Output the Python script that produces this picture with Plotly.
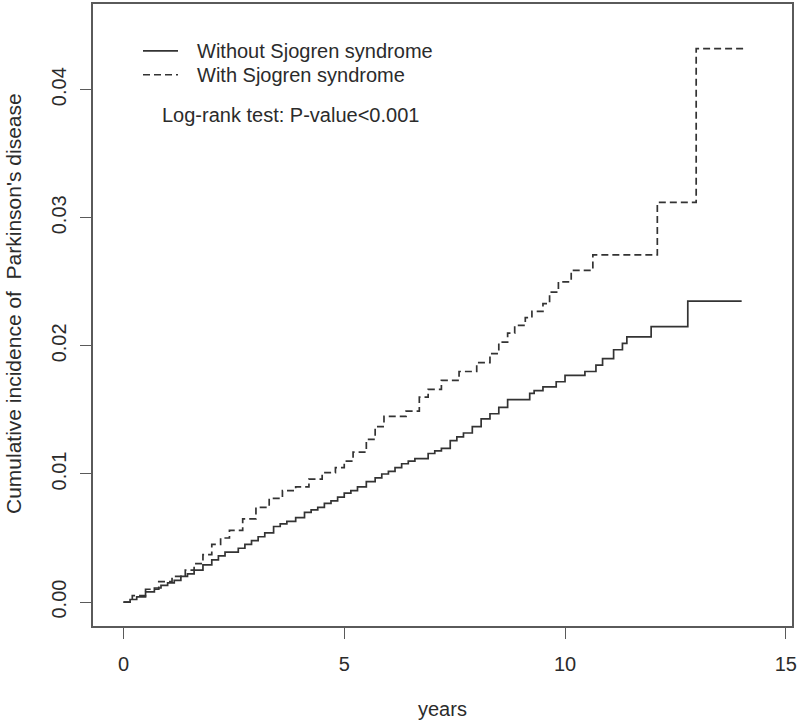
import plotly.graph_objects as go

# Without Sjogren syndrome (solid)
t_without = [0, 0.15, 0.3, 0.5, 0.7, 0.85, 1.0, 1.15, 1.3, 1.45, 1.6, 1.8, 2.0, 2.15, 2.3, 2.6,
             2.75, 2.9, 3.05, 3.2, 3.4, 3.55, 3.7, 3.9, 4.1, 4.25, 4.4, 4.55, 4.7, 4.85,
             5.0, 5.15, 5.3, 5.5, 5.7, 5.85, 6.0, 6.15, 6.3, 6.45, 6.6, 6.9, 7.05, 7.2, 7.4,
             7.55, 7.7, 7.9, 8.1, 8.3, 8.5, 8.7, 9.2, 9.3, 9.5, 9.8, 10.0, 10.45, 10.7, 10.85,
             11.1, 11.3, 11.4, 11.95, 12.78, 14.0]
ci_without = [0, 0.0002, 0.0004, 0.0008, 0.0011, 0.0013, 0.0015, 0.0017, 0.0020, 0.0022,
              0.0025, 0.0029, 0.0033, 0.0036, 0.0039, 0.0042, 0.0045, 0.0048, 0.0051, 0.0054,
              0.0059, 0.0061, 0.0063, 0.0066, 0.0070, 0.0072, 0.0074, 0.0077, 0.0079, 0.0082,
              0.0085, 0.0087, 0.0090, 0.0094, 0.0097, 0.0100, 0.0102, 0.0105, 0.0108, 0.0110,
              0.0112, 0.0116, 0.0118, 0.0120, 0.0126, 0.0129, 0.0132, 0.0137, 0.0143, 0.0147,
              0.0152, 0.0158, 0.0163, 0.0165, 0.0168, 0.0172, 0.0177, 0.0180, 0.0185, 0.0190,
              0.0197, 0.0202, 0.0207, 0.0215, 0.0235, 0.0235]

# With Sjogren syndrome (dashed)
t_with = [0, 0.2, 0.5, 0.8, 1.1, 1.4, 1.6, 1.8, 2.0, 2.2, 2.4, 2.7, 3.0, 3.3, 3.6, 3.9, 4.2, 4.5,
          4.8, 5.0, 5.2, 5.5, 5.7, 5.9, 6.4, 6.7, 6.9, 7.2, 7.6, 8.0, 8.3, 8.5, 8.7, 8.86, 9.1,
          9.25, 9.5, 9.65, 9.85, 10.14, 10.63, 12.09, 12.97, 14.05]
ci_with = [0, 0.0005, 0.0010, 0.0016, 0.0020, 0.0025, 0.0030, 0.0037, 0.0045, 0.0050, 0.0056,
           0.0065, 0.0074, 0.0081, 0.0087, 0.0090, 0.0096, 0.0101, 0.0105, 0.0110, 0.0117,
           0.0127, 0.0137, 0.0145, 0.0149, 0.0160, 0.0166, 0.0173, 0.0180, 0.0187, 0.0194,
           0.0203, 0.0210, 0.0216, 0.0222, 0.0227, 0.0233, 0.0242, 0.0250, 0.0259, 0.0271,
           0.0312, 0.0432, 0.0432]

x_ticks = [0, 5, 10, 15]
y_ticks = [0.00, 0.01, 0.02, 0.03, 0.04]
y_tick_labels = ["0.00", "0.01", "0.02", "0.03", "0.04"]

legend_names = ["Without Sjogren syndrome", "With Sjogren syndrome"]
test_text = "Log-rank test: P-value<0.001"
x_title = "years"
y_title = "Cumulative incidence of  Parkinson's disease"

FONT = "Liberation Sans, Arial, sans-serif"
INK = "#2b2b2b"
LINE = "#333333"
AXIS = "#5a5a5a"
FS = 20

# plot-area pixel box
L, R, T, B = 93, 792, 2, 626
W, H = 800, 724


def px(x):
    return (x - L) / (R - L)


def py(y):
    return (B - y) / (B - T)


fig = go.Figure()
fig.add_trace(go.Scatter(x=t_without, y=ci_without, mode="lines", line_shape="hv",
                         name=legend_names[0], showlegend=False,
                         line=dict(color=LINE, width=1.7)))
fig.add_trace(go.Scatter(x=t_with, y=ci_with, mode="lines", line_shape="hv",
                         name=legend_names[1], showlegend=False,
                         line=dict(color=LINE, width=1.7, dash="7px,4px")))

fig.update_layout(
    width=W, height=H,
    margin=dict(l=L, r=W - R, t=T, b=H - B),
    paper_bgcolor="white", plot_bgcolor="white",
    font=dict(family=FONT, size=FS, color=INK),
    xaxis=dict(range=[-0.69, 15.14], tickvals=x_ticks, ticks="outside", ticklen=11,
               tickcolor=AXIS, tickwidth=1.3, showline=True, linecolor=AXIS, linewidth=1.5,
               mirror=True, showgrid=False, zeroline=False, ticklabelstandoff=8,
               tickfont=dict(size=FS, color=INK)),
    yaxis=dict(range=[-0.001868, 0.04669], tickvals=y_ticks, ticktext=y_tick_labels,
               ticks="outside", ticklen=11, tickcolor=AXIS, tickwidth=1.3, tickangle=-90,
               showline=True, linecolor=AXIS, linewidth=1.5, mirror=True,
               showgrid=False, zeroline=False, ticklabelstandoff=6,
               tickfont=dict(size=FS, color=INK)),
)

# legend (manual, R style without box)
fig.add_shape(type="line", xref="paper", yref="paper", x0=px(143), x1=px(178),
              y0=py(49), y1=py(49), line=dict(color=LINE, width=1.7))
fig.add_shape(type="line", xref="paper", yref="paper", x0=px(143), x1=px(178),
              y0=py(73), y1=py(73), line=dict(color=LINE, width=1.7, dash="7px,4px"))
for name, yy in zip(legend_names, [49, 73]):
    fig.add_annotation(xref="paper", yref="paper", x=px(195), y=py(yy), xanchor="left",
                       yanchor="middle", text=name, showarrow=False,
                       font=dict(size=FS, color=INK))

fig.add_annotation(xref="paper", yref="paper", x=px(160), y=py(113), xanchor="left",
                   yanchor="middle", text=test_text, showarrow=False,
                   font=dict(size=FS, color=INK))

# axis titles
fig.add_annotation(xref="paper", yref="paper", x=0.5, y=py(709), xanchor="center",
                   yanchor="middle", text=x_title, showarrow=False,
                   font=dict(size=FS, color=INK))
fig.add_annotation(xref="paper", yref="paper", x=px(13), y=py(303), xanchor="center",
                   yanchor="middle", text=y_title, textangle=-90, showarrow=False,
                   font=dict(size=21, color=INK))

# remove the browser's default body margin so the figure fills the window exactly
fig.write_html("out.html", config={"displayModeBar": False},
               post_script="document.body.style.margin='0';")
